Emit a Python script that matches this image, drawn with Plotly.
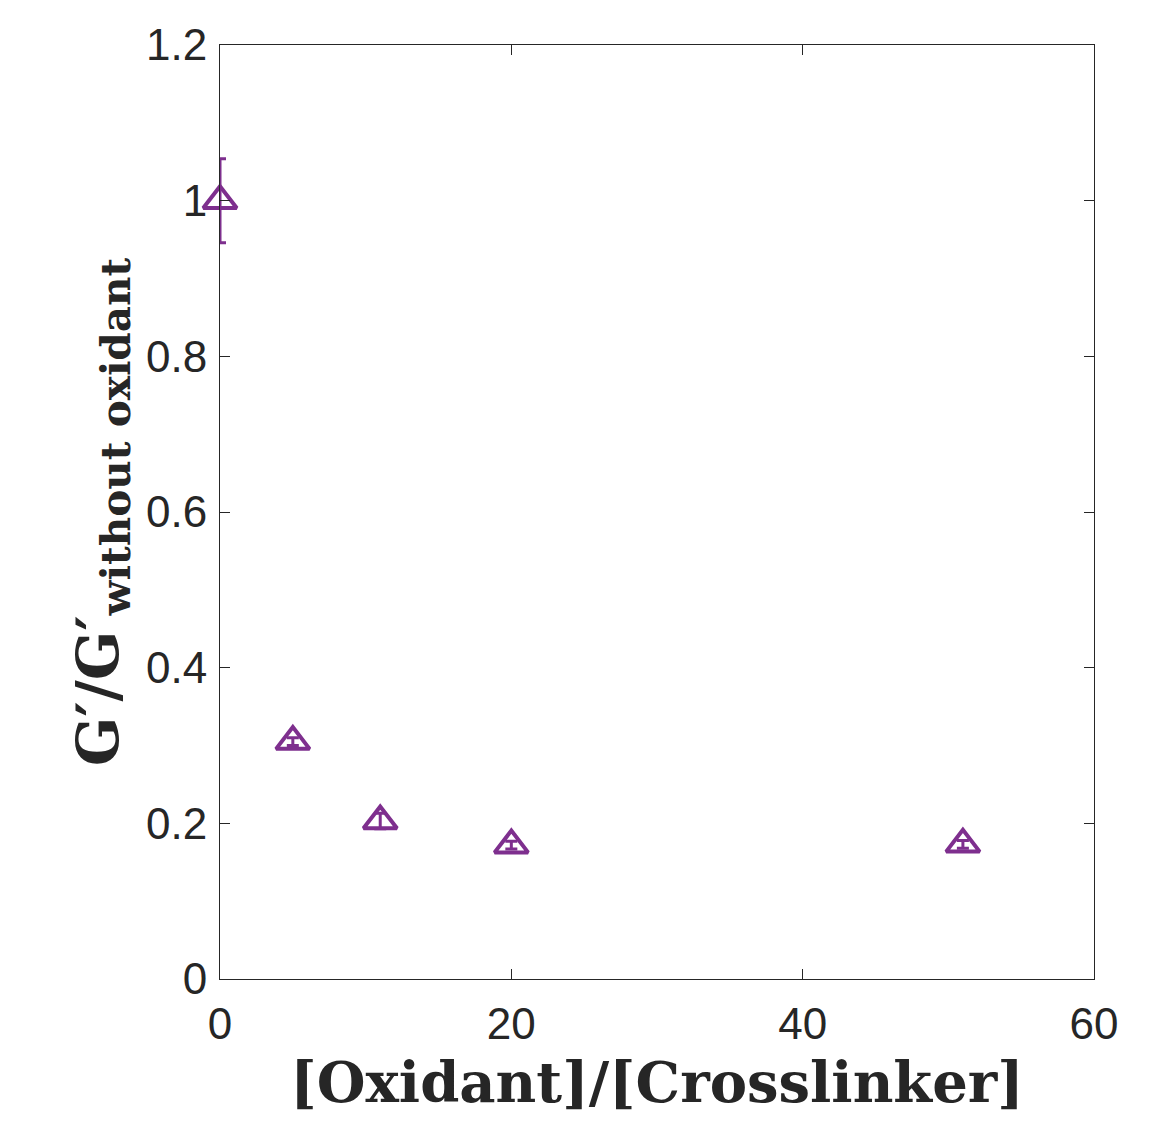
import plotly.graph_objects as go

ratio = [0, 5, 11, 20, 51]
g_norm = [1.0, 0.305, 0.203, 0.172, 0.173]
g_err = [0.054, 0.005, 0.01, 0.005, 0.005]

x_ticks = [0, 20, 40, 60]
y_ticks = [0, 0.2, 0.4, 0.6, 0.8, 1.0, 1.2]
y_tick_text = ["0", "0.2", "0.4", "0.6", "0.8", "1", "1.2"]

purple = "#7E2F8E"
axis_col = "#262626"

fig = go.Figure()
fig.add_trace(go.Scatter(
    x=ratio, y=g_norm, mode="markers",
    marker=dict(symbol="triangle-up-open", size=29, color=purple,
                line=dict(width=4, color=purple)),
    error_y=dict(type="data", array=g_err, visible=True, color=purple,
                 thickness=3, width=6),
    showlegend=False, cliponaxis=False,
))

fig.update_layout(
    width=1176, height=1124,
    margin=dict(l=212, r=90, t=37, b=153),
    paper_bgcolor="white", plot_bgcolor="white",
    font=dict(family="Liberation Sans, Arial, sans-serif", color=axis_col, size=44),
)
fig.update_xaxes(
    range=[0, 60], tickvals=x_ticks, ticks="inside", ticklen=10, tickwidth=1,
    tickcolor=axis_col, showline=True, linecolor=axis_col, linewidth=1,
    mirror="ticks", showgrid=False, zeroline=False, ticklabelstandoff=6,
    tickfont=dict(size=44, family="Liberation Sans, Arial, sans-serif"),
    title=dict(text="[Oxidant]/[Crosslinker]",
               font=dict(family="DejaVu Serif, serif", size=56, color=axis_col, weight="bold"),
               standoff=16),
)
fig.update_yaxes(
    range=[0, 1.2], tickvals=y_ticks, ticktext=y_tick_text, ticks="inside",
    ticklen=10, tickwidth=1, tickcolor=axis_col, showline=True,
    linecolor=axis_col, linewidth=1, mirror="ticks", showgrid=False,
    zeroline=False, ticklabelstandoff=3,
    tickfont=dict(size=44, family="Liberation Sans, Arial, sans-serif"),
    title=dict(text="G′/G′<sub>without oxidant</sub>",
               font=dict(family="DejaVu Serif, serif", size=58, color=axis_col, weight="bold"),
               standoff=8),
)

fig.write_html("out.html")
